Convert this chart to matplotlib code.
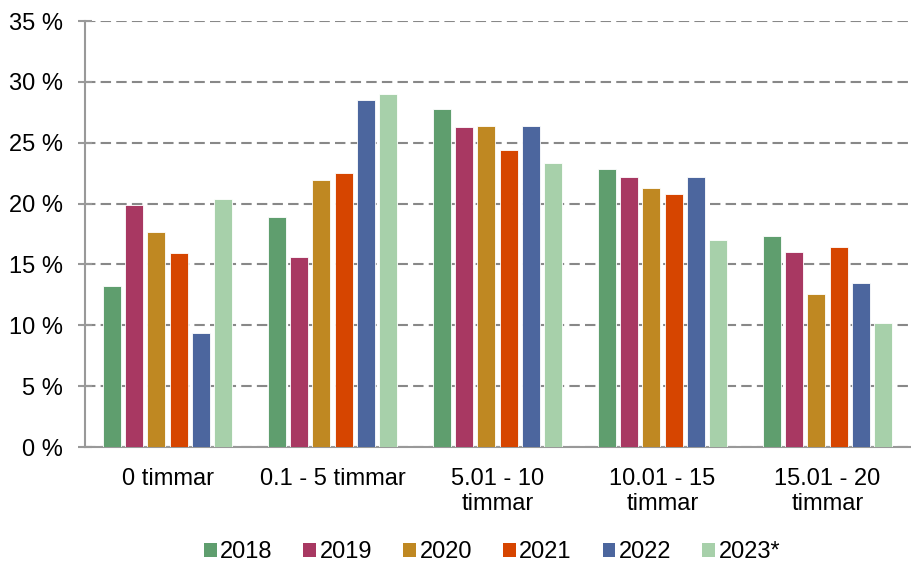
import matplotlib
matplotlib.use("Agg")
import matplotlib.pyplot as plt
import numpy as np
from matplotlib.patches import Patch

plt.rcParams['font.family'] = ['Liberation Sans', 'DejaVu Sans']

categories = ["0 timmar", "0.1 - 5 timmar", "5.01 - 10\ntimmar", "10.01 - 15\ntimmar", "15.01 - 20\ntimmar"]
years = ["2018", "2019", "2020", "2021", "2022", "2023*"]
v2018 = [13.2, 18.9, 27.8, 22.8, 17.3]
v2019 = [19.9, 15.6, 26.3, 22.2, 16.0]
v2020 = [17.7, 21.9, 26.4, 21.3, 12.6]
v2021 = [15.9, 22.5, 24.4, 20.8, 16.4]
v2022 = [9.4, 28.5, 26.4, 22.2, 13.5]
v2023 = [20.4, 29.0, 23.3, 17.0, 10.2]
series = [v2018, v2019, v2020, v2021, v2022, v2023]
colors = ["#5f9e6e", "#a83862", "#bf8822", "#d64500", "#4c669e", "#a7d0aa"]
yticks = [0, 5, 10, 15, 20, 25, 30, 35]

fig = plt.figure(figsize=(9.12, 5.65), dpi=100)
ax = fig.add_axes([85/912, 118/565, 825/912, 426/565])

x = np.arange(len(categories))
pitch = 0.135
width = 0.11
n = len(series)
for i, (vals, c) in enumerate(zip(series, colors)):
    off = (i - (n - 1) / 2) * pitch
    ax.bar(x + off, vals, width=width, color=c, edgecolor="white", linewidth=0.6, zorder=3)

ax.set_xlim(-0.5, len(categories) - 0.5)
ax.set_ylim(0, 35)
ax.set_yticks(yticks)
ax.set_yticklabels([f"{t} %" for t in yticks])
ax.set_xticks(x)
ax.set_xticklabels(categories)

ax.grid(axis="y", color="#888888", linewidth=1.5, linestyle=(0, (5, 2.5)), zorder=0)
ax.set_axisbelow(True)
for s in ["top", "right"]:
    ax.spines[s].set_visible(False)
for s in ["left", "bottom"]:
    ax.spines[s].set_color("#999999")
    ax.spines[s].set_linewidth(1.5)

ax.tick_params(axis="y", direction="inout", length=10, width=1.5, color="#999999", labelsize=17, pad=11)
ax.tick_params(axis="x", length=0, labelsize=17, pad=15)

handles = [Patch(facecolor=c, edgecolor="none") for c in colors]
fig.legend(handles, years, loc="center", bbox_to_anchor=(492/912, 1 - 552/565), ncol=6,
           frameon=False, fontsize=17, handlelength=0.55, handleheight=0.55,
           handletextpad=0.15, columnspacing=1.3, borderaxespad=0)

fig.savefig("out.png", dpi=100)
